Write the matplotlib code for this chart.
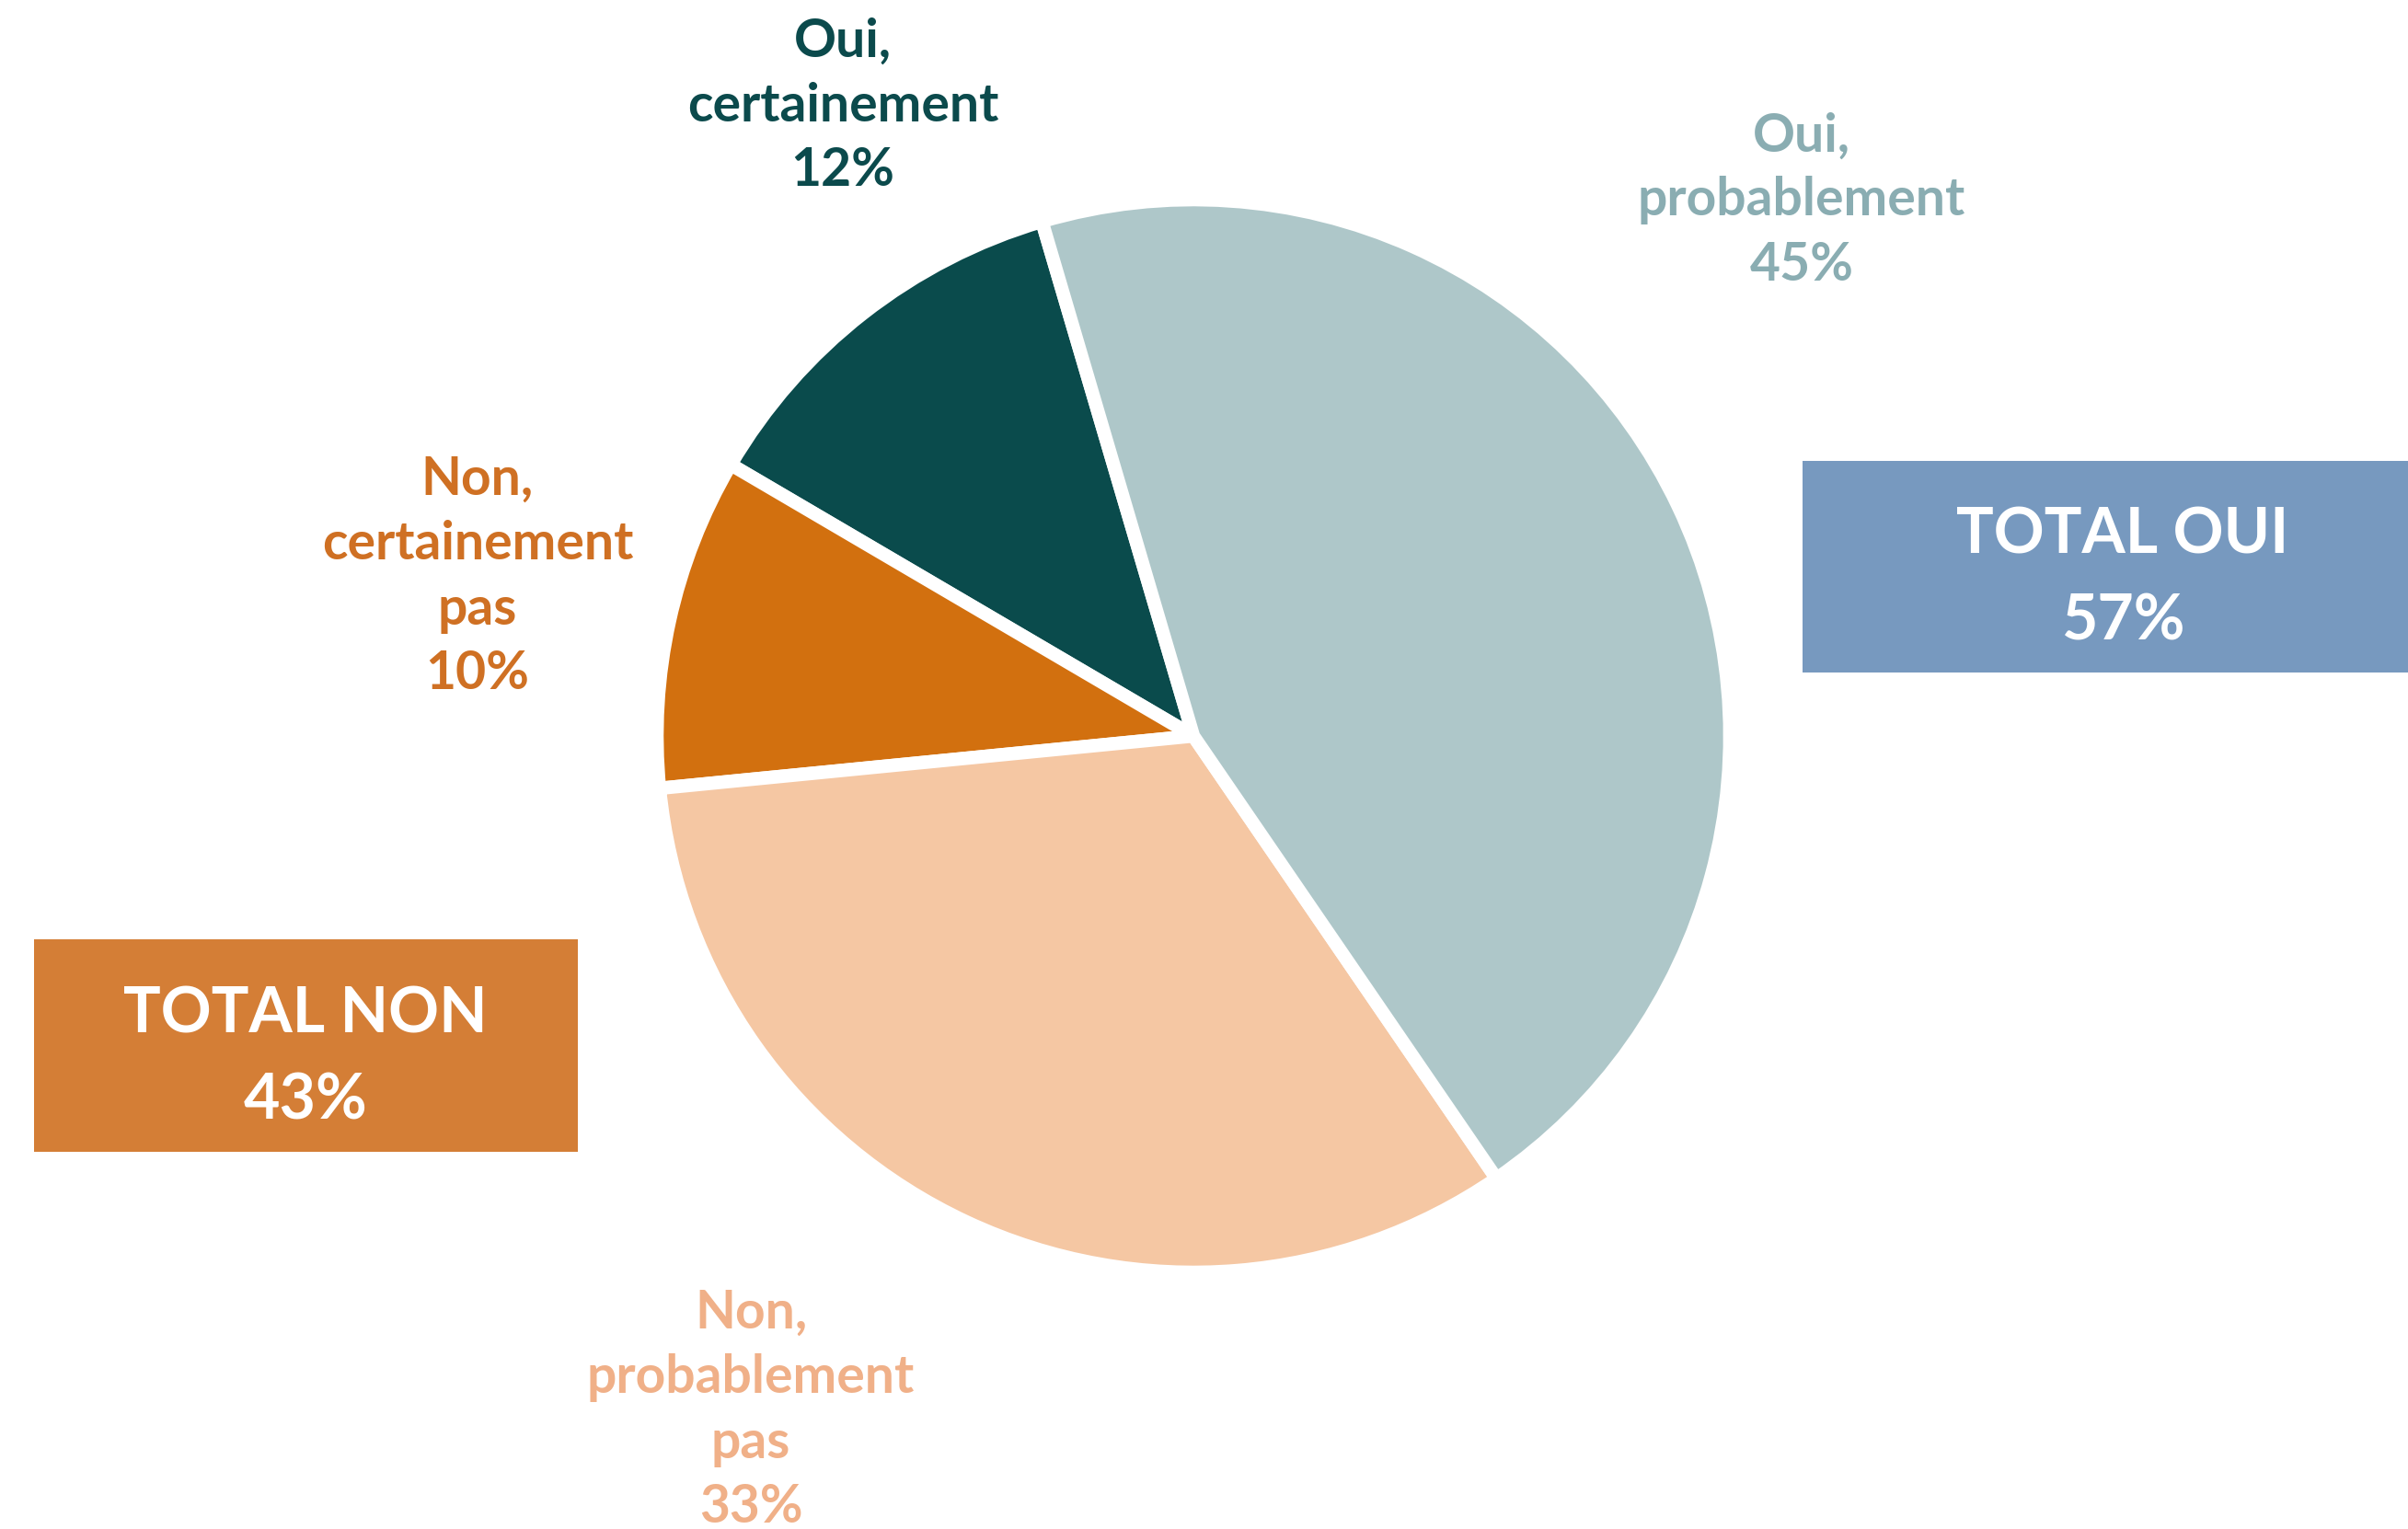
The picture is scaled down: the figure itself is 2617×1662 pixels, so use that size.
import matplotlib
matplotlib.use("Agg")
import matplotlib.pyplot as plt
from matplotlib.patches import Rectangle

# ---- data ----
categories = ["Oui, certainement", "Non, certainement pas",
              "Non, probablement pas", "Oui, probablement"]
values = [12, 10, 33, 45]
label_texts = ["Oui,\ncertainement\n12%", "Non,\ncertainement\npas\n10%",
               "Non,\nprobablement\npas\n33%", "Oui,\nprobablement\n45%"]
totals_labels = ["TOTAL OUI\n57%", "TOTAL NON\n43%"]

# ---- style ----
slice_colors = ["#0a4b4c", "#d2700f", "#f5c7a3", "#aec7c9"]
label_colors = ["#0b4a4c", "#cf7023", "#f0b088", "#8aadb2"]
label_pos = [(916, 1662 - 115), (519, 1662 - 627), (816, 1662 - 1533), (1958, 1662 - 218)]
FONT = ["Lato", "DejaVu Sans"]

W, H = 2617, 1662
fig = plt.figure(figsize=(W / 100, H / 100), dpi=100)
ax = fig.add_axes([0, 0, 1, 1])

center = (1297, H - 800)
ax.pie(values, colors=slice_colors, startangle=106.4, counterclock=True,
       center=center, radius=583, frame=True,
       wedgeprops=dict(edgecolor="white", linewidth=10.5, joinstyle="miter"))
ax.set_xlim(0, W)
ax.set_ylim(0, H)
ax.set_aspect("equal")
ax.axis("off")

for txt, (x, y), c in zip(label_texts, label_pos, label_colors):
    ax.text(x, y, txt, ha="center", va="center", color=c, fontsize=41,
            fontweight="bold", family=FONT, linespacing=1.4)

# total boxes
ax.add_patch(Rectangle((1959, H - 731), W - 1959, 230, facecolor="#7799bf",
                       edgecolor="none"))
ax.add_patch(Rectangle((37, H - 1252), 591, 231, facecolor="#d47e36",
                       edgecolor="none"))
ax.text(2307, H - 629, totals_labels[0], ha="center", va="center", color="white",
        fontsize=49, fontweight="bold", family=FONT, linespacing=1.6)
ax.text(332, H - 1150, totals_labels[1], ha="center", va="center", color="white",
        fontsize=49, fontweight="bold", family=FONT, linespacing=1.6)

fig.savefig("out.png", dpi=100, facecolor="white")
